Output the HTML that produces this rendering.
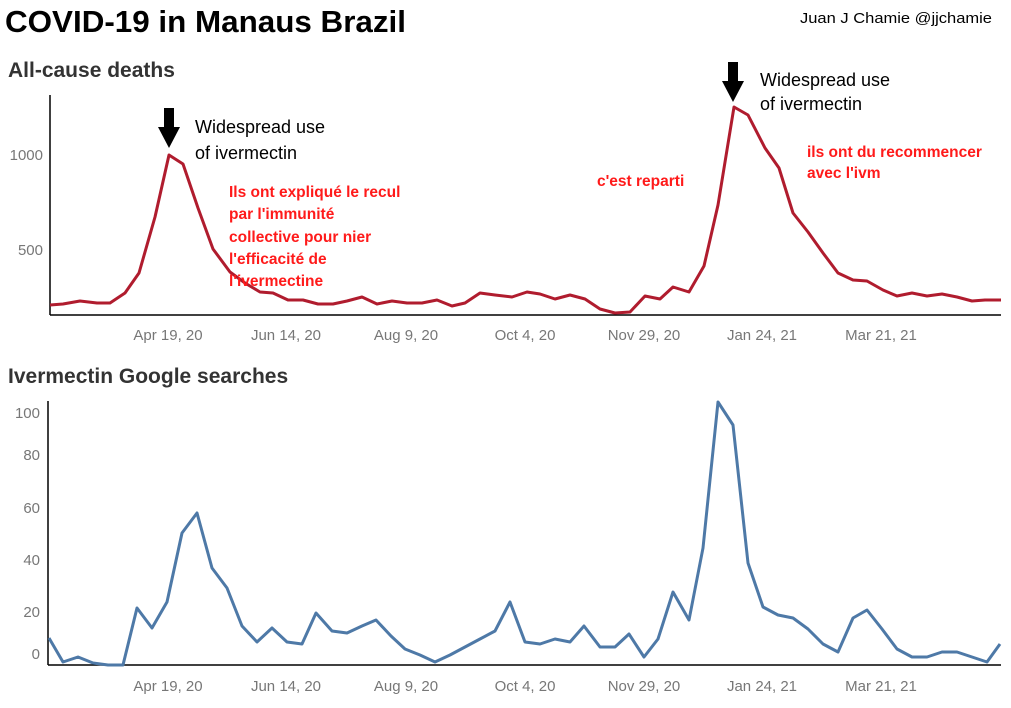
<!DOCTYPE html>
<html><head><meta charset="utf-8"><style>
body{margin:0;background:#fff;width:1011px;height:708px;overflow:hidden}
svg{display:block}
text{font-family:"Liberation Sans",sans-serif}
</style></head><body>
<svg width="1011" height="708" viewBox="0 0 1011 708">
<text x="5" y="32" font-size="31" font-weight="bold" fill="#000" textLength="401" lengthAdjust="spacingAndGlyphs">COVID-19 in Manaus Brazil</text>
<text x="800" y="23" font-size="14.5" fill="#000" textLength="192" lengthAdjust="spacingAndGlyphs">Juan J Chamie  @jjchamie</text>
<text x="8" y="77" font-size="21" font-weight="bold" fill="#333">All-cause deaths</text>
<text x="8" y="383" font-size="21" font-weight="bold" fill="#333">Ivermectin Google searches</text>

<g stroke="#000" stroke-width="1.5">
<line x1="50" y1="95" x2="50" y2="315"/><line x1="50" y1="315" x2="1001" y2="315"/>
<line x1="48" y1="401" x2="48" y2="665"/><line x1="48" y1="665" x2="1001" y2="665"/>
</g>
<g font-size="15" fill="#777" text-anchor="end">
<text x="43" y="160">1000</text><text x="43" y="255">500</text>
<text x="40" y="418">100</text><text x="40" y="460">80</text><text x="40" y="513">60</text><text x="40" y="565">40</text><text x="40" y="617">20</text><text x="40" y="659">0</text>
</g>
<g font-size="15" fill="#777" text-anchor="middle">
<text x="168" y="340">Apr 19, 20</text><text x="286" y="340">Jun 14, 20</text><text x="406" y="340">Aug 9, 20</text><text x="525" y="340">Oct 4, 20</text><text x="644" y="340">Nov 29, 20</text><text x="762" y="340">Jan 24, 21</text><text x="881" y="340">Mar 21, 21</text>
<text x="168" y="691">Apr 19, 20</text><text x="286" y="691">Jun 14, 20</text><text x="406" y="691">Aug 9, 20</text><text x="525" y="691">Oct 4, 20</text><text x="644" y="691">Nov 29, 20</text><text x="762" y="691">Jan 24, 21</text><text x="881" y="691">Mar 21, 21</text>
</g>

<polyline fill="none" stroke="#b01c2e" stroke-width="3" stroke-linejoin="round" points="50,305 63,304 80,301 97,303 110,303 125,293 139,273 155,217 169,155 183,164 198,208 213,249 230,272 245,283 260,292 273,293 288,300 303,300 318,304 333,304 347,301 362,297 377,304 392,301 407,303 422,303 437,300 452,306 465,303 480,293 495,295 512,297 527,292 540,294 555,299 570,295 585,299 600,309 615,313 630,312 645,296 660,299 673,287 689,292 704,266 718,205 734,107 748,115 765,148 779,168 793,213 808,232 823,253 838,273 853,280 867,281 883,290 897,296 912,293 927,296 942,294 957,297 972,301 985,300 1001,300"/>

<polyline fill="none" stroke="#4e79a7" stroke-width="3" stroke-linejoin="round" points="49,638 63,662 78,657 93,663 108,665 123,665 137,608 152,628 167,602 182,533 197,513 212,568 227,588 242,626 257,642 272,628 287,642 302,644 316,613 332,631 347,633 362,626 376,620 391,636 405,649 420,655 435,662 450,655 465,647 480,639 495,631 510,602 525,642 540,644 555,639 570,642 584,626 600,647 615,647 629,634 644,657 658,639 673,592 689,620 703,548 718,402 733,425 748,563 763,607 778,615 793,618 808,629 823,644 838,652 853,618 867,610 882,629 897,649 912,657 927,657 942,652 957,652 972,657 987,662 1000,644"/>

<g fill="#000">
<rect x="164" y="108" width="10" height="20"/><polygon points="158,127 180,127 169,148"/>
<rect x="728" y="62" width="10" height="20"/><polygon points="722,81 744,81 733,102"/>
</g>
<g font-size="18" fill="#000">
<text x="195" y="133">Widespread use</text><text x="195" y="159">of ivermectin</text>
<text x="760" y="86">Widespread use</text><text x="760" y="110">of ivermectin</text>
</g>
<g font-size="15.5" font-weight="bold" fill="#ff1a1a">
<text x="229" y="197">Ils ont expliqué le recul</text>
<text x="229" y="219">par l'immunité</text>
<text x="229" y="242">collective  pour nier</text>
<text x="229" y="264">l'efficacité de</text>
<text x="229" y="286">l'ivermectine</text>
<text x="597" y="186">c'est reparti</text>
<text x="807" y="157">ils ont du recommencer</text>
<text x="807" y="178">avec l'ivm</text>
</g>
</svg>
</body></html>
